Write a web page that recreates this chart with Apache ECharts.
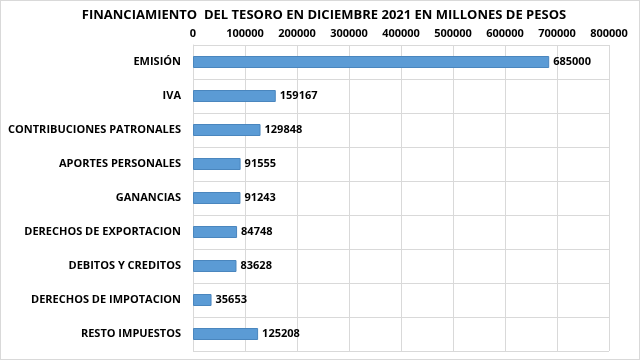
<!DOCTYPE html>
<html><head><meta charset="utf-8">
<script src="https://cdn.jsdelivr.net/npm/echarts@6/dist/echarts.min.js"></script>
<style>html,body{margin:0;padding:0;background:#fff}#c{width:640px;height:360px;box-sizing:border-box;border:1px solid #d9d9d9}</style>
</head><body><div id="c"></div>
<script>
const titleText = 'FINANCIAMIENTO  DEL TESORO EN DICIEMBRE 2021 EN MILLONES DE PESOS';
const categories = ['EMISIÓN','IVA','CONTRIBUCIONES PATRONALES','APORTES PERSONALES','GANANCIAS','DERECHOS DE EXPORTACION','DEBITOS Y CREDITOS','DERECHOS DE IMPOTACION','RESTO IMPUESTOS'];
const values = [685000,159167,129848,91555,91243,84748,83628,35653,125208];
const axisMin = 0, axisMax = 800000, axisStep = 100000;

const chart = echarts.init(document.getElementById('c'));
chart.setOption({
  animation:false,
  textStyle:{fontFamily:'Open Sans'},
  title:{text:titleText,left:318,top:3,textAlign:'center',textStyle:{fontSize:13,fontWeight:'bold',color:'#000',fontFamily:'Open Sans'}},
  grid:{left:192,right:30,top:44,bottom:8,containLabel:false},
  xAxis:{type:'value',position:'top',min:axisMin,max:axisMax,interval:axisStep,
    axisLine:{show:false},axisTick:{show:false},
    axisLabel:{color:'#000',fontWeight:'bold',fontSize:11,margin:6,formatter:v=>String(v)},
    splitLine:{show:true,lineStyle:{color:'#d9d9d9',width:1}}},
  yAxis:{type:'category',inverse:true,data:categories,
    axisLine:{show:true,lineStyle:{color:'#d9d9d9'}},axisTick:{show:false},
    axisLabel:{color:'#000',fontWeight:'bold',fontSize:11,margin:12},
    splitLine:{show:true,lineStyle:{color:'#d9d9d9',width:1}}},
  series:[{type:'bar',data:values,barWidth:12,
    itemStyle:{color:'#5B9BD5',borderColor:'#4A86BE',borderWidth:1},
    label:{show:true,position:'right',distance:4,color:'#000',fontWeight:'bold',fontSize:11}}]
});
</script></body></html>
